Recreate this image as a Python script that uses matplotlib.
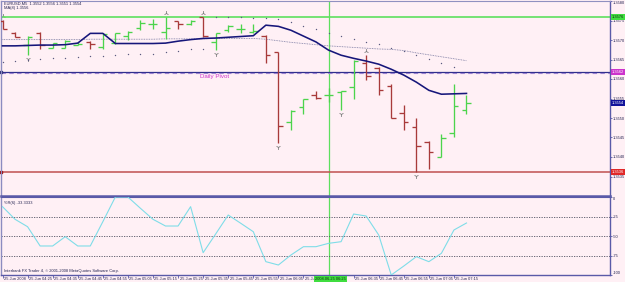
import matplotlib
matplotlib.use("Agg")
import matplotlib.pyplot as plt
import numpy as np

plt.rcParams['font.family'] = ['Liberation Sans Narrow', 'Liberation Sans', 'DejaVu Sans']

# ---- data (EURUSD M5, 25 Jun 2008 04:15 .. 07:20) ----
symbol = "EURUSD,M5"
opens = [1.35748, 1.35719, 1.35688, 1.35719, 1.35680, 1.35680, 1.35688, 1.35694, 1.35682, 1.35693,
         1.35710, 1.35732, 1.35740, 1.35721, 1.35748, 1.35740, 1.35758, 1.35695, 1.35725, 1.35728,
         1.35720, 1.35710, 1.35668, 1.35490, 1.35528, 1.35558, 1.35558, 1.35567, 1.35580, 1.35642,
         1.35627, 1.35582, 1.35512, 1.35477, 1.35439, 1.35400, 1.35462, 1.35520]
highs = [1.35751, 1.35720, 1.35710, 1.35721, 1.35693, 1.35700, 1.35696, 1.35697, 1.35717, 1.35719,
         1.35723, 1.35751, 1.35753, 1.35758, 1.35750, 1.35751, 1.35759, 1.35719, 1.35738, 1.35740,
         1.35740, 1.35712, 1.35669, 1.35520, 1.35550, 1.35569, 1.35576, 1.35569, 1.35648, 1.35661,
         1.35631, 1.35588, 1.35533, 1.35499, 1.35440, 1.35460, 1.35588, 1.35558]
lows = [1.35728, 1.35707, 1.35661, 1.35678, 1.35679, 1.35679, 1.35687, 1.35678, 1.35678, 1.35691,
        1.35701, 1.35725, 1.35729, 1.35703, 1.35729, 1.35738, 1.35708, 1.35674, 1.35721, 1.35719,
        1.35719, 1.35640, 1.35435, 1.35469, 1.35509, 1.35550, 1.35541, 1.35520, 1.35550, 1.35597,
        1.35558, 1.35499, 1.35469, 1.35362, 1.35370, 1.35399, 1.35450, 1.35509]
closes = [1.35729, 1.35708, 1.35708, 1.35687, 1.35692, 1.35698, 1.35691, 1.35689, 1.35715, 1.35718,
          1.35721, 1.35744, 1.35742, 1.35731, 1.35740, 1.35749, 1.35710, 1.35718, 1.35736, 1.35729,
          1.35722, 1.35661, 1.35480, 1.35517, 1.35548, 1.35552, 1.35560, 1.35568, 1.35647, 1.35608,
          1.35571, 1.35500, 1.35490, 1.35428, 1.35412, 1.35449, 1.35530, 1.35539]

ma_fast = [1.35685, 1.35685, 1.35686, 1.35687, 1.35687, 1.35688, 1.35692, 1.35717, 1.35717, 1.35691,
           1.35691, 1.35691, 1.35691, 1.35692, 1.35697, 1.35701, 1.35704, 1.35705, 1.35707, 1.35709,
           1.35711, 1.35738, 1.35735, 1.35725, 1.35710, 1.35695, 1.35674, 1.35661, 1.35653, 1.35646,
           1.35638, 1.35625, 1.35610, 1.35592, 1.35571, 1.35561, 1.35562, 1.35563]
ma_slow = [1.35701, 1.35701, 1.35701, 1.35701, 1.35701, 1.35701, 1.35701, 1.35702, 1.35702, 1.35702,
           1.35702, 1.35702, 1.35702, 1.35703, 1.35703, 1.35703, 1.35703, 1.35704, 1.35704, 1.35704,
           1.35704, 1.35702, 1.35698, 1.35694, 1.35691, 1.35688, 1.35685, 1.35683, 1.35681, 1.35679,
           1.35677, 1.35676, 1.35673, 1.35667, 1.35662, 1.35657, 1.35652, 1.35647]
sar = [1.35643, 1.35647, 1.35648, 1.35651, 1.35654, 1.35655, 1.35657, 1.35658, 1.35659, 1.35661,
       1.35663, 1.35664, 1.35665, 1.35668, 1.35672, 1.35676, 1.35678, 1.35760, 1.35759, 1.35758,
       1.35757, 1.35756, 1.35753, 1.35745, 1.35735, 1.35727, 1.35719, 1.35711, 1.35703, 1.35696,
       1.35689, 1.35680, 1.35671, 1.35661, 1.35651, 1.35641, 1.35630, np.nan]
fractal_up = [0, 13, 16, 29]
fractal_down = [2, 17, 22, 27, 33]

wpr = [-12.4, -28.6, -38.1, -62.8, -62.8, -50.9, -62.8, -62.8, -31.7, 0.0,
       0.0, -14.5, -28.6, -37.2, -37.2, -12.4, -71.4, -47.4, -23.1, -33.7,
       -44.5, -82.9, -87.2, -74.4, -63.7, -63.7, -59.4, -57.3, -21.8, -24.4,
       -48.7, -100.0, -88.5, -76.5, -82.9, -72.2, -42.3, -33.3333]
wpr_levels = [-25, -50, -75]
wpr_ticks = [0, -25, -50, -75, -100]

resistance = 1.35759
daily_pivot = 1.35618
support = 1.35362
price_ticks = [1.3535, 1.3540, 1.3545, 1.3550, 1.3555, 1.3560, 1.3565, 1.3570, 1.3575, 1.3580]

marked_bar = 26
marked_time = "2008.06.25 06:25"
label_bars = [0, 2, 4, 6, 8, 10, 12, 14, 16, 18, 20, 22, 24, 28, 30, 32, 34, 36]
time_labels = ['25 Jun 2008', '25 Jun 04:25', '25 Jun 04:35', '25 Jun 04:45', '25 Jun 04:55',
               '25 Jun 05:05', '25 Jun 05:15', '25 Jun 05:25', '25 Jun 05:35', '25 Jun 05:45',
               '25 Jun 05:55', '25 Jun 06:05', '25 Jun 06:15', '25 Jun 06:35',
               '25 Jun 06:45', '25 Jun 06:55', '25 Jun 07:05', '25 Jun 07:15']

# ---- style ----
bg = '#FFF0F5'
frame = '#5A5AA8'
txt = '#222250'
up_col = '#4CD44C'
dn_col = '#A83A3A'
fs = 2.9

W, H = 625, 282
fig = plt.figure(figsize=(6.25, 2.82), dpi=100, facecolor=bg)
ax = fig.add_axes([1.5 / W, 1 - 196 / H, 608.5 / W, 195 / H], facecolor=bg)
axw = fig.add_axes([1.5 / W, 1 - 275 / H, 608.5 / W, 78 / H], facecolor=bg)

x = np.arange(len(opens))
xlim = (-0.08, -0.08 + 608.5 / 12.54)

# ---- main price panel ----
cols = [up_col if c >= o else dn_col for o, c in zip(opens, closes)]
tick = 0.36
ax.vlines(x, lows, highs, colors=cols, lw=0.95, zorder=4)
ax.hlines(opens, x - tick, x, colors=cols, lw=0.95, zorder=4)
ax.hlines(closes, x, x + tick, colors=cols, lw=0.95, zorder=4)

ax.plot(x, ma_slow, color='#7878A0', lw=0.6, ls=(0, (1, 1)), zorder=3)
ax.plot(x, ma_fast, color='#16167A', lw=1.15, zorder=5)
ax.plot(x, sar, ls='none', marker='o', ms=1.0, mew=0, color='#5A5A80', zorder=3)

fu = np.array(fractal_up)
fd = np.array(fractal_down)
ax.plot(fu, np.array(highs)[fu] + 0.0001, ls='none', marker='2', ms=3.5, mew=0.6, color='#808080')
ax.plot(fd, np.array(lows)[fd] - 0.0001, ls='none', marker='1', ms=3.5, mew=0.6, color='#808080')

ax.axhline(resistance, color='#5EE05E', lw=1.2, zorder=2)
ax.axhline(daily_pivot, color='#2E2E8C', lw=0.9, zorder=2)
ax.axhline(daily_pivot - 0.00003, color='#9A80D0', lw=0.8, dashes=(4, 3), zorder=2)
ax.axhline(support, color='#C05050', lw=1.1, zorder=2)
ax.plot([xlim[0]], [support], marker='s', ms=2, color='#990000', clip_on=False)
ax.plot([xlim[0]], [daily_pivot], marker='s', ms=2, color='#22226E', clip_on=False)
ax.axvline(marked_bar, color='#5EE05E', lw=0.9, zorder=1)

ax.text((200 - 1.5) / 608.5, daily_pivot - 0.00004, 'Daily Pivot', transform=ax.get_yaxis_transform(),
        ha='left', va='top', fontsize=4.4, color='#CC33CC', family=['Liberation Sans', 'DejaVu Sans'])

ax.text(0.004, 0.988, f"{symbol}  {opens[-1]:.4f} {highs[-1]:.4f} {lows[-1]:.4f} {closes[-1]:.4f}",
        transform=ax.transAxes, ha='left', va='center', fontsize=fs, color=txt)
ax.text(0.004, 0.962, f"MA(8) {ma_fast[-1]:.4f}", transform=ax.transAxes,
        ha='left', va='center', fontsize=fs, color=txt)

ax.set_xlim(*xlim)
ax.set_ylim(1.3530, 1.3580)
ax.yaxis.tick_right()
ax.set_yticks(price_ticks)
ax.set_yticklabels([f"{p:.4f}" for p in price_ticks])
ax.tick_params(axis='y', labelsize=fs, length=1.5, width=0.6, pad=0.6, color=frame, labelcolor=txt)
ax.get_yticklabels()[-1].set_va('top')
ax.set_xticks([])
for side, c, w in [('left', '#8C8CC0', 1.0), ('right', frame, 1.0), ('top', '#9090C0', 0.8), ('bottom', frame, 1.8)]:
    ax.spines[side].set_color(c)
    ax.spines[side].set_linewidth(w)

def price_box(a, val, fc, tc):
    a.text(1.003, val, f"{val:.4f}", transform=a.get_yaxis_transform(), ha='left', va='center',
           fontsize=fs, color=tc, clip_on=False, zorder=10,
           bbox=dict(boxstyle='square,pad=0.25', fc=fc, ec='none'))

price_box(ax, resistance, '#40DD40', '#103010')
price_box(ax, daily_pivot, '#CC33CC', 'white')
price_box(ax, closes[-1], '#12129A', 'white')
price_box(ax, support, '#E02828', 'white')

# ---- Williams %R panel ----
axw.plot(x, wpr, color='#7FDDE8', lw=0.8, zorder=3)
for lv in wpr_levels:
    axw.axhline(lv, color='#505060', lw=0.6, ls=(0, (1.5, 1.5)), zorder=2)
axw.axvline(marked_bar, color='#5EE05E', lw=0.9, zorder=1)
axw.set_xlim(*xlim)
axw.set_ylim(-100, 0)
axw.yaxis.tick_right()
axw.set_yticks(wpr_ticks)
axw.set_yticklabels([str(t) for t in wpr_ticks])
axw.tick_params(axis='y', labelsize=fs, length=1.5, width=0.6, pad=0.6, color=frame, labelcolor=txt)
ylabs = axw.get_yticklabels()
ylabs[0].set_va('top')
ylabs[-1].set_va('bottom')
axw.set_xticks(label_bars + [marked_bar])
axw.tick_params(axis='x', length=2.5, width=0.6, color=frame, labelbottom=False)
for side, c, w in [('left', '#8C8CC0', 1.0), ('right', frame, 1.0), ('top', frame, 0.8), ('bottom', frame, 1.0)]:
    axw.spines[side].set_color(c)
    axw.spines[side].set_linewidth(w)

axw.text(0.004, 0.95, f"%R(6) {wpr[-1]:.4f}", transform=axw.transAxes, ha='left', va='top',
         fontsize=fs, color=txt)
axw.text(0.004, 0.05, "Interbank FX Trader 4, \u00a9 2001-2008 MetaQuotes Software Corp.",
         transform=axw.transAxes, ha='left', va='center', fontsize=fs, color=txt)

xt = axw.get_xaxis_transform()
for b, lab in zip(label_bars, time_labels):
    axw.text(b + 0.12, -0.055, lab, transform=xt, ha='left', va='center', fontsize=fs,
             color=txt, clip_on=False)
axw.text(marked_bar + 0.15, -0.055, marked_time, transform=xt, ha='center', va='center', fontsize=fs,
         color='#103010', clip_on=False, zorder=10,
         bbox=dict(boxstyle='square,pad=0.25', fc='#40DD40', ec='none'))

fig.savefig('out.png', dpi=100, facecolor=bg)
